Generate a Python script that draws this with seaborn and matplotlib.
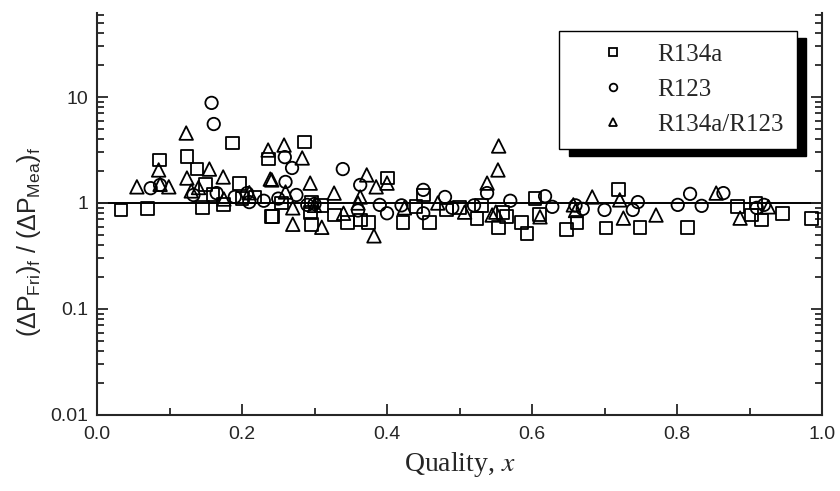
import matplotlib
matplotlib.use('Agg')
import matplotlib.pyplot as plt
from matplotlib.ticker import LogLocator, FixedLocator, MultipleLocator, FixedFormatter
import pandas as pd
import seaborn as sb
import numpy as np

# R134a (squares)
x_r134a = [0.033, 0.070, 0.086, 0.124, 0.138, 0.146, 0.150, 0.160, 0.175, 0.187, 0.197, 0.200,
           0.218, 0.236, 0.241, 0.242, 0.255, 0.286, 0.294, 0.296, 0.296, 0.310, 0.328, 0.346,
           0.363, 0.374, 0.401, 0.422, 0.440, 0.450, 0.459, 0.482, 0.500, 0.524, 0.530, 0.554,
           0.560, 0.565, 0.586, 0.593, 0.604, 0.610, 0.647, 0.662, 0.702, 0.719, 0.749, 0.815,
           0.883, 0.903, 0.909, 0.917, 0.946, 0.985]
y_r134a = [0.86, 0.88, 2.55, 2.77, 2.09, 0.90, 1.50, 1.20, 0.96, 3.68, 1.54, 1.10,
           1.14, 2.60, 0.74, 0.75, 1.00, 3.76, 0.82, 1.02, 0.63, 0.95, 0.77, 0.65,
           0.69, 0.66, 1.72, 0.66, 0.92, 1.19, 0.66, 0.86, 0.90, 0.71, 0.95, 0.59,
           0.82, 0.74, 0.66, 0.52, 1.11, 0.78, 0.56, 0.65, 0.58, 1.33, 0.59, 0.59,
           0.92, 0.77, 1.00, 0.69, 0.80, 0.72]

# R123 (circles)
x_r123 = [0.074, 0.087, 0.133, 0.158, 0.161, 0.165, 0.190, 0.207, 0.210, 0.230, 0.250, 0.259,
          0.260, 0.269, 0.275, 0.290, 0.300, 0.339, 0.360, 0.363, 0.390, 0.400, 0.420, 0.450,
          0.450, 0.480, 0.490, 0.520, 0.538, 0.570, 0.618, 0.628, 0.660, 0.670, 0.700, 0.739,
          0.746, 0.801, 0.818, 0.834, 0.864, 0.910, 0.920]
y_r123 = [1.38, 1.48, 1.19, 8.80, 5.56, 1.24, 1.14, 1.24, 1.02, 1.05, 1.10, 2.71,
          1.58, 2.14, 1.19, 0.96, 0.98, 2.09, 0.85, 1.48, 0.96, 0.80, 0.95, 1.33,
          0.80, 1.14, 0.90, 0.95, 1.24, 1.05, 1.16, 0.92, 0.95, 0.88, 0.86, 0.86,
          1.02, 0.96, 1.22, 0.94, 1.24, 0.90, 0.96]

# R134a/R123 (triangles)
x_mix = [0.055, 0.085, 0.087, 0.099, 0.123, 0.124, 0.130, 0.140, 0.155, 0.174, 0.175, 0.210,
         0.236, 0.239, 0.241, 0.258, 0.260, 0.270, 0.270, 0.283, 0.294, 0.300, 0.310, 0.327,
         0.340, 0.360, 0.363, 0.372, 0.382, 0.385, 0.400, 0.424, 0.470, 0.507, 0.538, 0.545,
         0.550, 0.553, 0.554, 0.611, 0.657, 0.660, 0.683, 0.721, 0.726, 0.771, 0.854, 0.887,
         0.926]
y_mix = [1.42, 2.05, 1.50, 1.42, 4.57, 1.72, 1.30, 1.40, 2.09, 1.76, 1.09, 1.25,
         3.16, 1.68, 1.65, 3.52, 1.27, 0.90, 0.63, 2.66, 1.54, 0.95, 0.59, 1.24,
         0.80, 1.00, 1.14, 1.84, 0.49, 1.42, 1.54, 0.90, 1.00, 0.82, 1.54, 0.77,
         0.82, 2.05, 3.45, 0.74, 0.96, 0.85, 1.14, 1.07, 0.72, 0.77, 1.24, 0.72,
         0.92]

series = [('R134a', x_r134a, y_r134a, 's', 85),
          ('R123', x_r123, y_r123, 'o', 80),
          ('R134a/R123', x_mix, y_mix, '^', 95)]

sb.set_style('ticks')
plt.rcParams['font.family'] = ['Liberation Sans', 'DejaVu Sans']
plt.rcParams['mathtext.fontset'] = 'custom'
plt.rcParams['mathtext.rm'] = 'Liberation Sans'
plt.rcParams['mathtext.it'] = 'Liberation Sans:italic'

fig = plt.figure(figsize=(8.4, 4.91), dpi=100)
ax = fig.add_axes([0.1155, 0.1548, 0.8631, 0.8187])

handles = []
for name, xs, ys, mk, s in series:
    df = pd.DataFrame({'x': xs, 'y': ys})
    sb.scatterplot(data=df, x='x', y='y', marker=mk, s=s, color='black',
                   facecolor='none', edgecolor='black', linewidth=1.3, ax=ax, legend=False)
    h, = ax.plot([], [], linestyle='none', marker=mk, markersize=5.5,
                 markerfacecolor='none', markeredgecolor='black', markeredgewidth=1.3, label=name)
    handles.append(h)

ax.axhline(1, color='black', lw=1.4, zorder=0)

ax.set_yscale('log')
ax.set_xlim(0, 1)
ax.set_ylim(0.01, 62)
ax.xaxis.set_major_locator(MultipleLocator(0.2))
ax.xaxis.set_minor_locator(MultipleLocator(0.1))
ax.xaxis.set_major_formatter(plt.FuncFormatter(lambda v, p: '%.1f' % v))
ax.yaxis.set_major_locator(FixedLocator([0.01, 0.1, 1, 10]))
ax.yaxis.set_major_formatter(FixedFormatter(['0.01', '0.1', '1', '10']))
ax.yaxis.set_minor_locator(LogLocator(base=10, subs=np.arange(2, 10), numticks=20))

ax.spines['top'].set_visible(False)
for sp in ['left', 'right', 'bottom']:
    ax.spines[sp].set_linewidth(1.5)
ax.tick_params(which='both', direction='in', right=True, top=False, width=1.3, labelsize=14)
ax.tick_params(axis='x', pad=8)
ax.tick_params(axis='y', pad=6)
ax.tick_params(which='major', length=8)
ax.tick_params(which='minor', length=5)

ax.set_xlabel('Quality, $x$', fontsize=20, family='Liberation Serif', labelpad=5,
              math_fontfamily='stix')
ax.set_ylabel(r'$(\Delta \mathrm{P}_{\mathrm{Fri}})_{\mathrm{f}}$ / $(\Delta \mathrm{P}_{\mathrm{Mea}})_{\mathrm{f}}$',
              fontsize=18, labelpad=2)
ax.yaxis.set_label_coords(-0.075, 0.43)

leg = ax.legend(handles=handles, loc='upper right', bbox_to_anchor=(0.965, 0.955),
                frameon=True, fancybox=False, edgecolor='black', borderpad=0.5,
                handletextpad=0.15, labelspacing=0.5, borderaxespad=0, handlelength=3.3,
                prop={'family': 'Liberation Serif', 'size': 18},
                shadow={'ox': 7, 'oy': -5, 'facecolor': 'black', 'edgecolor': 'black', 'alpha': 1})
leg.get_frame().set_linewidth(1.0)

plt.savefig('out.png', dpi=100)
